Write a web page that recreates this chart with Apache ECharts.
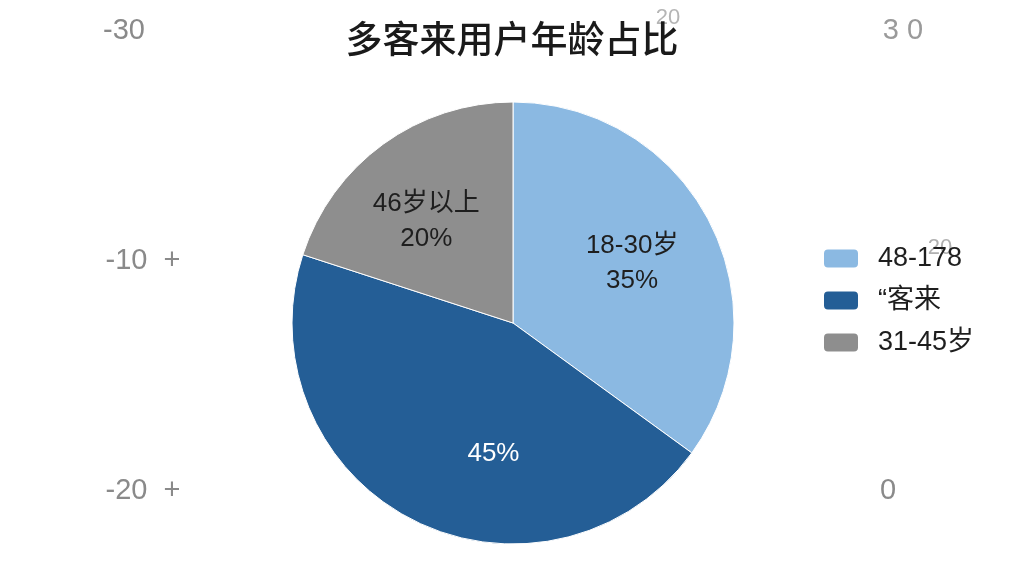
<!DOCTYPE html>
<html><head><meta charset="utf-8">
<script src="https://cdn.jsdelivr.net/npm/echarts@6/dist/echarts.min.js"></script>
<style>html,body{margin:0;padding:0;background:#fff}#c{width:1024px;height:576px}</style>
</head><body><div id="c"></div>
<script>
var titleText = '多客来用户年龄占比';
var categories = ['18-30岁', '31-45岁', '46岁以上'];
var values = [35, 45, 20];
var legendLabels = ['48-178', '“客来', '31-45岁'];
var legendOrder = ['18-30岁', '31-45岁', '46岁以上'];
var showName = [true, false, true];
var strayLabels = ['-30', '3 0', '-10  +', '-20  +', '0', '20', '20'];

var colors = ['#8bb9e2', '#245e96', '#8e8e8e'];
var labelColors = ['#1e1e1e', '#ffffff', '#1e1e1e'];
var FONT = '"Liberation Sans", "Noto Sans CJK SC", sans-serif';

var chart = echarts.init(document.getElementById('c'));
var legendMap = {};
legendOrder.forEach(function (n, i) { legendMap[n] = legendLabels[i]; });

var strayPos = [
  {x: 124, y: 31, s: 29, c: '#8a8a8a'},
  {x: 903, y: 31, s: 29, c: '#9a9a9a'},
  {x: 143, y: 261, s: 29, c: '#8a8a8a'},
  {x: 143, y: 491, s: 29, c: '#8a8a8a'},
  {x: 888, y: 491, s: 29, c: '#8a8a8a'},
  {x: 668, y: 18, s: 22, c: '#b5b5b5'},
  {x: 940, y: 248, s: 22, c: '#b0b0b0'}
];
var graphics = strayLabels.map(function (t, i) {
  var p = strayPos[i];
  return {type: 'text', x: p.x, y: p.y, style: {text: t, fill: p.c, font: p.s + 'px ' + FONT, textAlign: 'center', textVerticalAlign: 'middle'}, z: -1};
});

chart.setOption({
  backgroundColor: '#ffffff',
  animation: false,
  title: {
    text: titleText, left: 'center', top: 15,
    textStyle: {fontSize: 37, fontWeight: 500, color: '#1a1a1a', fontFamily: '"Noto Sans CJK SC", sans-serif'}
  },
  legend: {
    orient: 'vertical', left: 822, top: 245, padding: 0,
    itemWidth: 36, itemHeight: 20, itemGap: 15,
    data: legendOrder,
    formatter: function (n) { return legendMap[n]; },
    textStyle: {fontSize: 27, color: '#1e1e1e', fontFamily: FONT, padding: [0, 0, 0, 14]}
  },
  graphic: graphics,
  series: [{
    type: 'pie',
    center: [513, 323],
    radius: 221,
    startAngle: 90,
    clockwise: true,
    itemStyle: {borderColor: '#ffffff', borderWidth: 1},
    label: {
      position: 'inside',
      fontSize: 26, lineHeight: 35, fontFamily: FONT,
      formatter: function (p) {
        return showName[p.dataIndex] ? p.name + '\n' + p.value + '%' : p.value + '%';
      }
    },
    labelLayout: function (p) {
      var off = [[18, -8], [32, 30], [-20, -10]];
      return {dx: off[p.dataIndex][0], dy: off[p.dataIndex][1]};
    },
    data: categories.map(function (n, i) {
      return {name: n, value: values[i], itemStyle: {color: colors[i]}, label: {color: labelColors[i]}};
    })
  }]
});
</script></body></html>
